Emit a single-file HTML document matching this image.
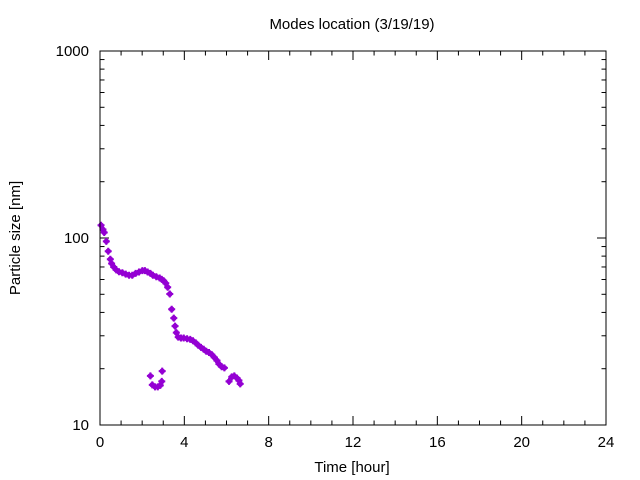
<!DOCTYPE html>
<html><head><meta charset="utf-8"><style>
html,body{margin:0;padding:0;background:#fff;}
svg{display:block;font-family:"Liberation Sans",sans-serif;}
</style></head><body>
<svg id="chart" width="640" height="480" viewBox="0 0 640 480">
<text x="352" y="29" text-anchor="middle" font-size="15">Modes location (3/19/19)</text>
<text x="352" y="472" text-anchor="middle" font-size="15">Time [hour]</text>
<text transform="translate(20,238) rotate(-90)" text-anchor="middle" font-size="15">Particle size [nm]</text>
<g id="axes"></g>
<g id="points"></g>
<rect x="100" y="51" width="506" height="374" fill="none" stroke="#000" stroke-width="1"/>
</svg>
<script>
const xTicks=[0,4,8,12,16,20,24];
const yTicks=[10,100,1000];
const hours=[0.05,0.14,0.20,0.30,0.39,0.49,0.55,0.65,0.77,0.90,1.06,1.22,1.38,1.53,1.69,1.85,2.01,2.13,2.26,2.39,2.51,2.67,2.83,2.93,3.02,3.12,3.21,3.31,3.40,3.50,3.56,3.62,3.71,3.84,3.97,4.13,4.28,4.41,4.54,4.66,4.79,4.92,5.04,5.17,5.30,5.42,5.55,5.64,5.77,5.90,6.12,6.25,6.37,6.50,6.59,6.65,2.39,2.48,2.61,2.74,2.86,2.93,2.95];
const sizes=[117,111,107,96,85,77,73,70,67.5,66,65.2,64.1,63.2,63.2,64.7,65.8,66.9,66.9,65.8,64.7,63.2,62.1,61.1,60.1,59.1,57.3,54.5,50.2,41.6,37.3,33.8,31.2,29.5,29.2,29.2,28.9,28.7,28.2,27.5,26.7,26.0,25.4,24.8,24.4,23.8,23.0,22.1,21.2,20.5,20.2,17.1,18.1,18.3,17.8,17.3,16.6,18.3,16.4,16.0,16.0,16.3,17.1,19.4];
const NS="http://www.w3.org/2000/svg";
const X0=100,X1=606,Y0=425,Y1=51;
function xs(h){return X0+(h-0)/(24-0)*(X1-X0);}
function ys(v){return Y0-(Math.log10(v)-1)/(3-1)*(Y0-Y1);}
const axes=document.getElementById('axes');
function line(x1,y1,x2,y2,name){const l=document.createElementNS(NS,'line');l.setAttribute('x1',x1);l.setAttribute('y1',y1);l.setAttribute('x2',x2);l.setAttribute('y2',y2);l.setAttribute('stroke','#000');l.setAttribute('stroke-width','1');


axes.appendChild(l);}
function label(x,y,t,anchor,name){const e=document.createElementNS(NS,'text');e.setAttribute('x',x);e.setAttribute('y',y);e.setAttribute('text-anchor',anchor);e.setAttribute('font-size','15');e.textContent=t;


axes.appendChild(e);}
for(let h=0;h<=24;h++){const x=xs(h);const major=h%4===0;const L=major?9:4.5;
line(x,Y0,x,Y0-L,'x-tick');line(x,Y1,x,Y1+L,'x-tick-top');}
xTicks.forEach(t=>label(xs(t),447,String(t),'middle','x-tick-label'));
for(let d=1;d<3;d++){for(let m=1;m<=10;m++){const v=m*Math.pow(10,d);const y=ys(v);const major=m===1||m===10;const L=major?9:4.5;
line(X0,y,X0+L,y,'y-tick');line(X1,y,X1-L,y,'y-tick-right');}}
yTicks.forEach(t=>label(89,ys(t)+5,String(t),'end','y-tick-label'));
const pts=document.getElementById('points');
for(let i=0;i<hours.length;i++){const x=xs(hours[i]),y=ys(sizes[i]);
const g=document.createElementNS(NS,'g');


const c=document.createElementNS(NS,'circle');c.setAttribute('cx',x);c.setAttribute('cy',y);c.setAttribute('r','2.8');c.setAttribute('fill','#9400d3');g.appendChild(c);
const p=document.createElementNS(NS,'path');p.setAttribute('d',`M${x-3.5},${y}H${x+3.5}M${x},${y-3.5}V${y+3.5}`);p.setAttribute('stroke','#9400d3');p.setAttribute('stroke-width','2');g.appendChild(p);
pts.appendChild(g);}
</script>
</body></html>
